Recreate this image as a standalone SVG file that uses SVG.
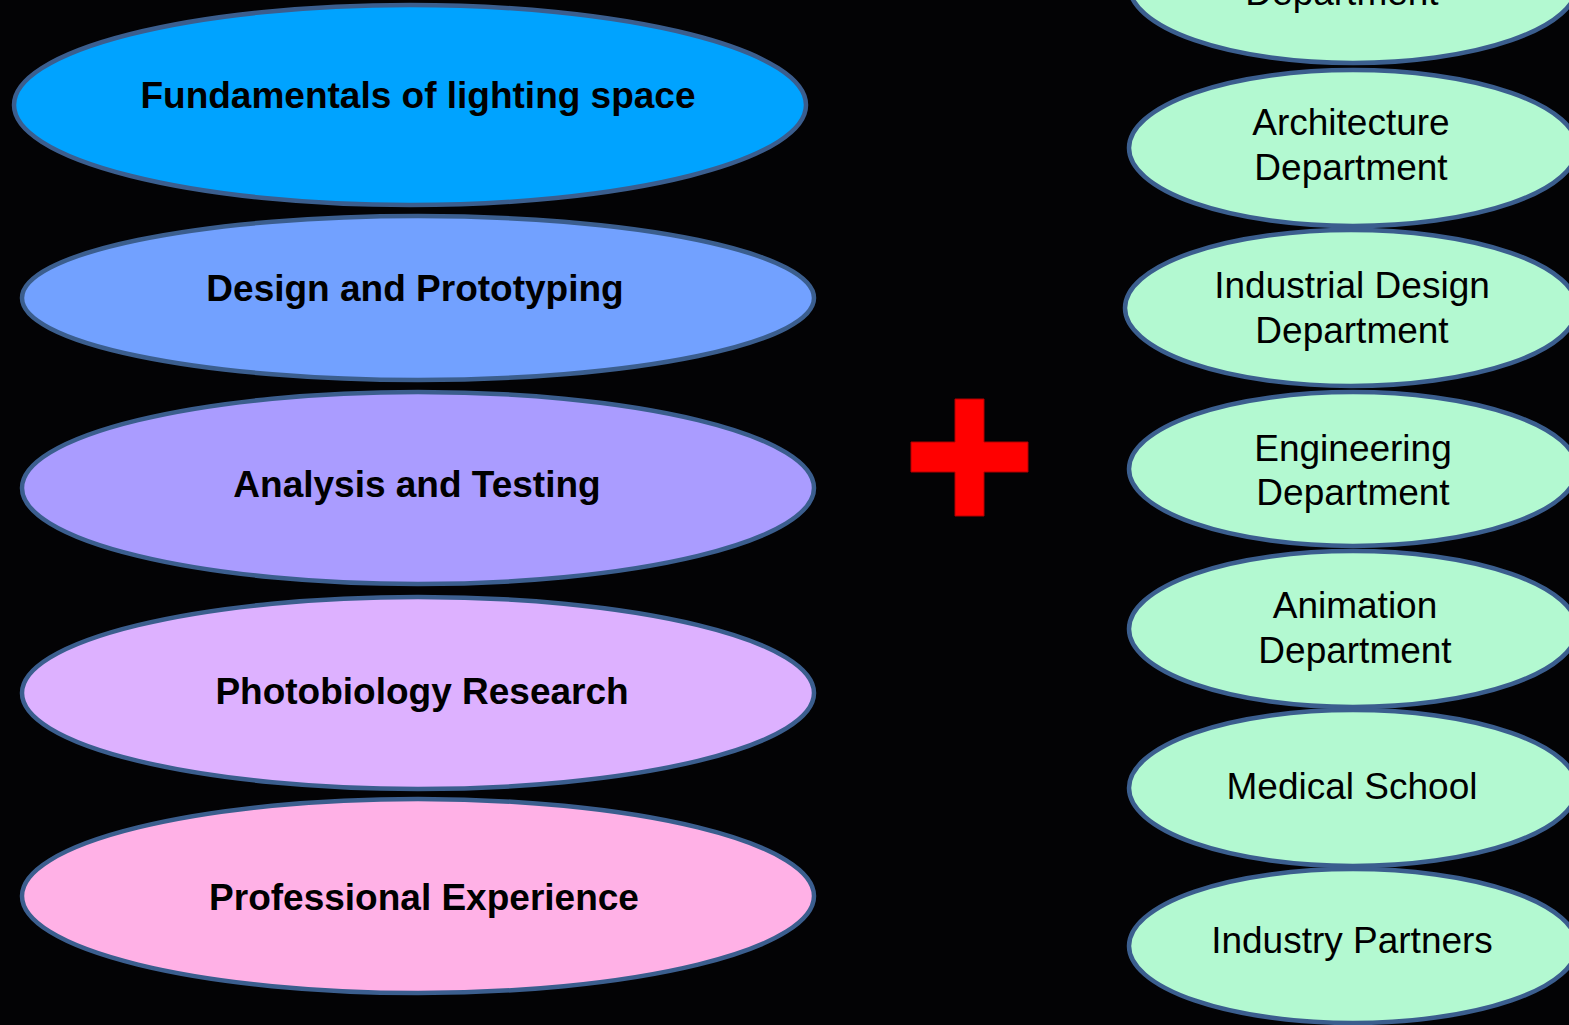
<svg xmlns="http://www.w3.org/2000/svg" width="1569" height="1025" viewBox="0 0 1569 1025">
  <style>
    .oval { stroke: #3b5e8e; stroke-width: 4.5; }
    .dept { fill: #b3f9d1; }
    .bold { font-family: "Liberation Sans", Arial, sans-serif; font-weight: bold; font-size: 37px; fill: #000; text-anchor: middle; }
    .reg { font-family: "Liberation Sans", Arial, sans-serif; font-size: 37px; fill: #000; text-anchor: middle; }
  </style>
  <rect x="0" y="0" width="1569" height="1025" fill="#030305"/>

  <!-- Left column: study areas -->
  <g id="fundamentals">
    <ellipse class="oval" cx="410" cy="105" rx="396" ry="100" fill="#00a3ff"/>
    <text class="bold" x="418" y="108">Fundamentals of lighting space</text>
  </g>
  <g id="design">
    <ellipse class="oval" cx="418" cy="298" rx="396" ry="82" fill="#72a1ff"/>
    <text class="bold" x="415" y="301">Design and Prototyping</text>
  </g>
  <g id="analysis">
    <ellipse class="oval" cx="418" cy="488" rx="396" ry="96" fill="#aa9cff"/>
    <text class="bold" x="417" y="497">Analysis and Testing</text>
  </g>
  <g id="photobiology">
    <ellipse class="oval" cx="418" cy="693" rx="396" ry="96" fill="#ddb1ff"/>
    <text class="bold" x="422" y="704">Photobiology Research</text>
  </g>
  <g id="professional">
    <ellipse class="oval" cx="418" cy="896" rx="396" ry="97" fill="#ffb1e6"/>
    <text class="bold" x="424" y="910">Professional Experience</text>
  </g>

  <!-- Plus sign -->
  <g id="plus">
    <path d="M955,399 H984 V442 H1028 V472 H984 V516 H955 V472 H911 V442 H955 Z" fill="#ff0000" stroke="#b00000" stroke-width="1"/>
  </g>

  <!-- Right column: partner departments -->
  <g id="dept-top">
    <ellipse class="oval dept" cx="1353" cy="-15" rx="224" ry="78"/>
    <text class="reg" x="1342" y="5">Department</text>
  </g>
  <g id="architecture">
    <ellipse class="oval dept" cx="1353" cy="148" rx="224" ry="78"/>
    <text class="reg" x="1351" y="135">Architecture</text>
    <text class="reg" x="1351" y="180">Department</text>
  </g>
  <g id="industrial-design">
    <ellipse class="oval dept" cx="1351" cy="308" rx="226" ry="78"/>
    <text class="reg" x="1352" y="298">Industrial Design</text>
    <text class="reg" x="1352" y="343">Department</text>
  </g>
  <g id="engineering">
    <ellipse class="oval dept" cx="1353" cy="469" rx="224" ry="77"/>
    <text class="reg" x="1353" y="461">Engineering</text>
    <text class="reg" x="1353" y="505">Department</text>
  </g>
  <g id="animation">
    <ellipse class="oval dept" cx="1353" cy="629" rx="224" ry="78"/>
    <text class="reg" x="1355" y="618">Animation</text>
    <text class="reg" x="1355" y="663">Department</text>
  </g>
  <g id="medical">
    <ellipse class="oval dept" cx="1353" cy="788" rx="224" ry="78"/>
    <text class="reg" x="1352" y="799">Medical School</text>
  </g>
  <g id="industry">
    <ellipse class="oval dept" cx="1353" cy="946" rx="224" ry="77"/>
    <text class="reg" x="1352" y="953">Industry Partners</text>
  </g>

  <g id="connectors"></g>
</svg>
